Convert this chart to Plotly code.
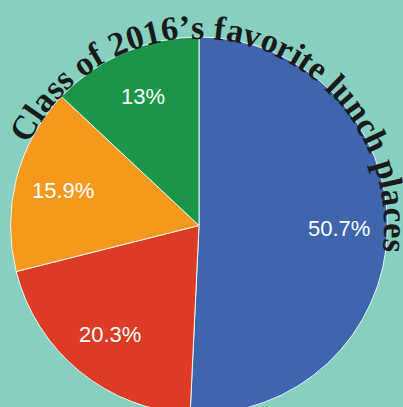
import math
import plotly.graph_objects as go

# ---- data ----
slice_labels = ["50.7%", "20.3%", "15.9%", "13%"]
slice_values = [50.7, 20.3, 15.9, 13.0]
slice_colors = ["#3D66AF", "#DD3B24", "#F7991D", "#1A9648"]
title_text = "Class of 2016\u2019s favorite lunch places"

# ---- geometry / style ----
W, H = 403, 414
BG = "#87D0C1"
pcx, pcy, R = 199.0, 225.5, 188.5          # pie centre / radius (px, from top-left)
tcx, tcy = 197.0, 225.5                    # arc centre for curved title
title_size = 34
baseline_r = 187.0
spacing = 1.01
box_shift = 0.3375 * title_size           # baseline -> text box centre
start_deg = -60.5                          # angle of first character centre

def px2paper(x, y):
    return x / W, 1 - y / H

# Times-Bold-like advance widths (per 1000 em) for spacing along the arc
widths = {
    "C": 722, "l": 278, "a": 500, "s": 389, " ": 250, "o": 500, "f": 333,
    "2": 500, "0": 500, "1": 500, "6": 500, "\u2019": 333, "v": 500,
    "r": 444, "i": 278, "t": 333, "e": 444, "u": 556, "n": 556, "c": 444,
    "h": 556, "p": 556,
}

fig = go.Figure(go.Pie(
    labels=slice_labels,
    values=slice_values,
    sort=False,
    direction="clockwise",
    rotation=0,
    marker=dict(colors=slice_colors, line=dict(color="#EEF4F2", width=1)),
    textinfo="none",
    hoverinfo="skip",
    showlegend=False,
    domain=dict(x=[(pcx - R) / W, (pcx + R) / W], y=[1 - (pcy + R) / H, 1 - (pcy - R) / H]),
))

annotations = []

# slice percentage labels, placed from the data
total = sum(slice_values)
acc = 0.0
for lab, v in zip(slice_labels, slice_values):
    mid = (acc + v / 2) / total * 2 * math.pi
    acc += v
    rl = 0.745 * R
    x = pcx + rl * math.sin(mid)
    y = pcy - rl * math.cos(mid)
    px, py = px2paper(x, y)
    annotations.append(dict(
        x=px, y=py, xref="paper", yref="paper", text=lab, showarrow=False,
        xanchor="center", yanchor="middle",
        font=dict(family="Liberation Sans, Arial, sans-serif", size=22, color="#FFFFFF"),
    ))

# curved title, one annotation per character
cum = 0.0
for i, ch in enumerate(title_text):
    w = widths.get(ch, 450) * title_size / 1000.0 * spacing
    if i == 0:
        centre_arc = 0.0
        first_half = w / 2
    else:
        centre_arc = cum + w / 2 - first_half
    cum += w
    if ch == " ":
        continue
    ang = start_deg + math.degrees(centre_arc / baseline_r)
    a = math.radians(ang)
    rr = baseline_r + box_shift
    x = tcx + rr * math.sin(a)
    y = tcy - rr * math.cos(a)
    px, py = px2paper(x, y)
    annotations.append(dict(
        x=px, y=py, xref="paper", yref="paper", text=ch, showarrow=False,
        xanchor="center", yanchor="middle", textangle=ang,
        font=dict(family="Liberation Serif, Times New Roman, serif", size=title_size,
                  color="#1A1A1A", weight="bold"),
    ))

fig.update_layout(
    width=W, height=H,
    margin=dict(l=0, r=0, t=0, b=0),
    paper_bgcolor=BG,
    plot_bgcolor=BG,
    annotations=annotations,
)

fig.write_html(
    "out.html",
    config={"displayModeBar": False},
    post_script="document.body.style.margin='0';document.body.style.overflow='hidden';"
                "document.documentElement.style.overflow='hidden';",
)
